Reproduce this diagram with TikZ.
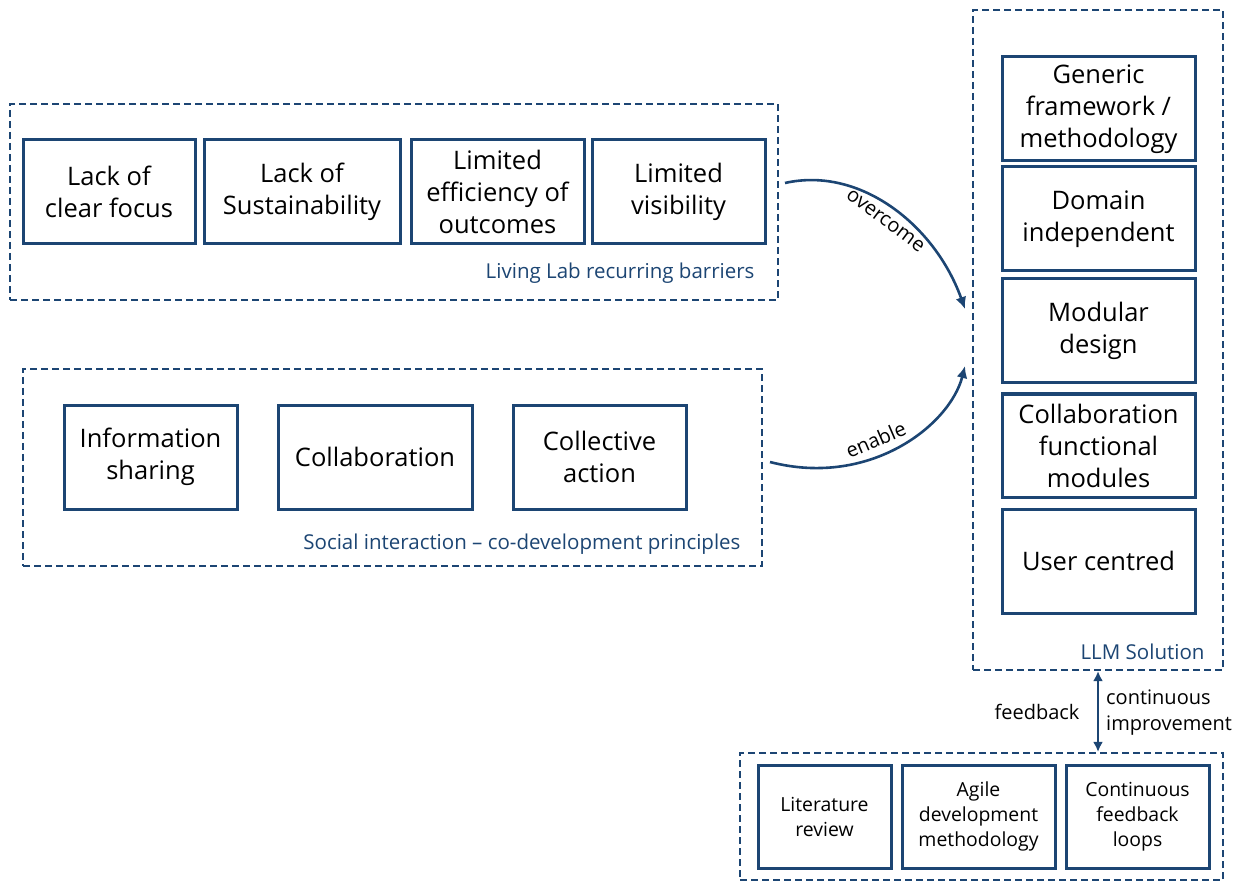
\documentclass[tikz,border=0pt]{standalone}
\usepackage{fontspec}
\setmainfont{Open Sans}
\usetikzlibrary{arrows.meta}
\definecolor{marino}{RGB}{28,69,115}

\begin{document}
\begin{tikzpicture}[x=1pt, y=-1pt,
	caja/.style = {draw=marino, line width=3pt, align=center, inner sep=0pt, font=\fontsize{25.5}{32}\selectfont},
	cajita/.style = {draw=marino, line width=3pt, align=center, inner sep=0pt, minimum height=103pt, font=\fontsize{19.4}{25}\selectfont},
	grupo/.style = {draw=marino, line width=2.2pt, dash pattern=on 7pt off 4pt, inner sep=0pt},
	etiqueta/.style = {text=marino, font=\fontsize{20.5}{24}\selectfont},
	flecha/.style = {draw=marino, line width=2.6pt, -{Latex[length=12pt,width=11pt]}},
	texto/.style = {font=\fontsize{20}{26}\selectfont},]
	\useasboundingbox (0,0) rectangle (1234,882);

	% marcos
	\node[grupo, minimum width=768pt, minimum height=196pt] (g1) at (394,202) {};
	\node[grupo, minimum width=739pt, minimum height=197pt] (g2) at (392.5,467.5) {};
	\node[grupo, minimum width=250pt, minimum height=660pt] (g3) at (1098,340) {};
	\node[grupo, minimum width=483pt, minimum height=127pt] (g4) at (981.5,816.5) {};

	\node[etiqueta, anchor=base east] (e1) at (758,279) {Living Lab recurring barriers};
	\node[etiqueta, anchor=base east] (e2) at (744,549) {Social interaction -- co-development principles};
	\node[etiqueta, anchor=base east] (e3) at (1208,659) {LLM Solution};

	% barreras
	\node[caja, minimum width=172pt, minimum height=104pt] (b1) at (109,192) {Lack of\\clear focus};
	\node[caja, minimum width=196pt, minimum height=104pt] (b2) at (302,192) {Lack of\\Sustainability};
	\node[caja, minimum width=173pt, minimum height=104pt] (b3) at (497.5,192) {Limited\\efficiency of\\outcomes};
	\node[caja, minimum width=173pt, minimum height=104pt] (b4) at (678.5,192) {Limited\\visibility};

	% principios
	\node[caja, minimum width=173pt, minimum height=104pt] (s1) at (150.5,457) {Information\\sharing};
	\node[caja, minimum width=194pt, minimum height=104pt] (s2) at (375,457) {Collaboration};
	\node[caja, minimum width=173pt, minimum height=104pt] (s3) at (599.5,457) {Collective\\action};

	% solucion
	\node[caja, minimum width=193pt, minimum height=104pt] (l1) at (1098.5,109) {Generic\\framework /\\methodology};
	\node[caja, minimum width=193pt, minimum height=104pt] (l2) at (1098.5,219) {Domain\\independent};
	\node[caja, minimum width=193pt, minimum height=104pt] (l3) at (1098.5,331) {Modular\\design};
	\node[caja, minimum width=193pt, minimum height=103pt] (l4) at (1098.5,445.5) {Collaboration\\functional\\modules};
	\node[caja, minimum width=193pt, minimum height=104pt] (l5) at (1098.5,561) {User centred};

	% metodos
	\node[cajita, minimum width=133pt] (r1) at (824.5,816.5) {Literature\\review};
	\node[cajita, minimum width=153pt] (r2) at (978.5,816.5) {Agile\\development\\methodology};
	\node[cajita, minimum width=143pt] (r3) at (1137.5,816.5) {Continuous\\feedback\\loops};

	% flechas
	\coordinate (oc1) at (785,183);
	\coordinate (oc2) at (965,309);
	\coordinate (en1) at (770,462);
	\coordinate (en2) at (965,366);
	\draw[flecha] (oc1) .. controls (860,166) and (935,225) .. node[texto, pos=0.51, sloped, below=4pt] {overcome} (oc2);
	\draw[flecha] (en1) .. controls (870,488) and (950,425) .. node[texto, pos=0.42, sloped, above=4pt] {enable} (en2);
	\draw[draw=marino, line width=2.6pt, {Latex[length=10pt,width=10pt]}-{Latex[length=10pt,width=10pt]}] (g3.south) -- (g3.south |- g4.north);

	\node[texto, anchor=east] (fb) at (1083,712) {feedback};
	\node[texto, anchor=west, align=left, inner sep=0pt] (ci) at (1106,713) {continuous\\improvement};
\end{tikzpicture}
\end{document}
